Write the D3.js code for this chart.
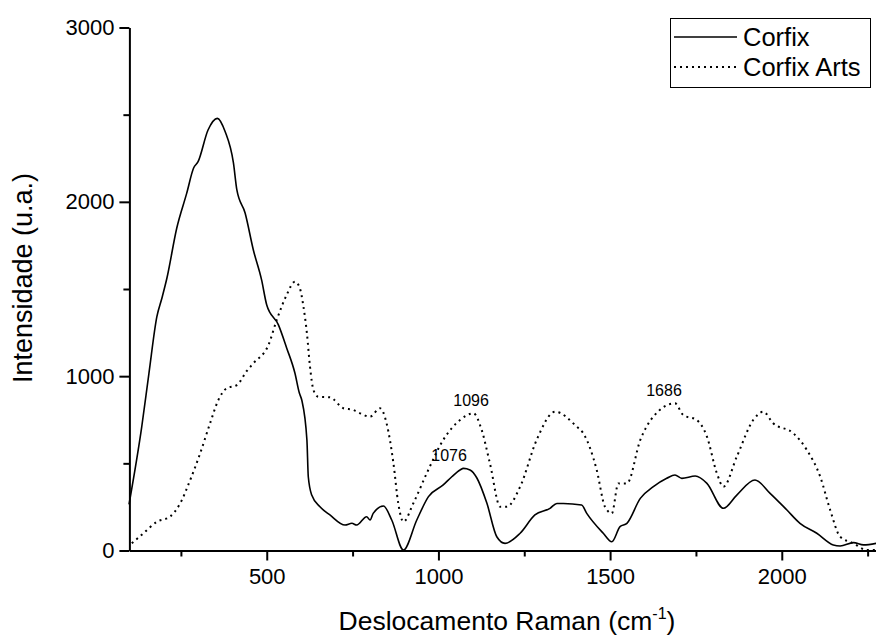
<!DOCTYPE html>
<html lang="pt">
<head>
<meta charset="UTF-8">
<title>Raman</title>
<style>
  body { margin: 0; background: #fff; }
  svg text { font-family: Arial, "Liberation Sans", sans-serif; fill: #000; }
  .axis path, .axis line { stroke: #000; stroke-width: 2px; }
  .axis text { font-size: 22px; }
</style>
</head>
<body>
<div id="chart"></div>
<script src="https://d3js.org/d3.v7.min.js"></script>
<script>
// Corfix (solid): [raman shift, intensity]
var corfix = [[99,265],[136,710],[157,1018],[180,1341],[195,1450],[209,1560],[238,1850],[267,2050],[287,2194],
  [300,2230],[329,2412],[356,2479],[379,2402],[403,2223],[413,2068],[437,1936],[461,1724],[485,1552],
  [500,1408],[534,1294],[558,1162],[582,1018],[595,903],[602,863],[617,634],[621,423],[631,318],
  [655,251],[684,204],[728,146],[748,156],[762,146],[791,194],[801,175],[810,213],[840,255],[864,175],
  [898,3],[937,175],[971,309],[1014,376],[1039,423],[1063,462],[1073,471],[1092,462],[1112,416],
  [1141,272],[1170,79],[1194,41],[1238,99],[1281,204],[1325,242],[1345,270],[1364,270],[1417,261],
  [1432,213],[1480,99],[1505,50],[1529,137],[1549,156],[1588,299],[1626,366],[1665,414],[1689,433],
  [1709,414],[1748,427],[1782,385],[1830,242],[1869,318],[1922,404],[1966,328],[2015,232],[2053,156],
  [2102,99],[2150,32],[2170,26],[2209,45],[2238,32],[2275,41]];

// Corfix Arts (dotted)
var corfixArts = [[107,41],[141,99],[180,165],[218,194],[248,271],[277,404],[306,557],[335,730],
  [359,863],[383,930],[413,949],[442,1030],[461,1074],[505,1179],[529,1322],[558,1466],[582,1542],
  [595,1513],[607,1398],[617,1246],[626,1054],[636,921],[650,882],[684,879],[723,816],[752,806],
  [772,787],[801,768],[830,816],[849,730],[869,500],[883,271],[898,165],[927,271],[966,443],
  [1014,634],[1063,749],[1102,787],[1126,691],[1150,500],[1180,251],[1199,251],[1238,366],
  [1286,634],[1340,796],[1403,710],[1422,672],[1461,462],[1485,251],[1505,213],[1524,385],
  [1549,385],[1588,634],[1626,768],[1689,844],[1713,777],[1752,749],[1782,653],[1811,443],
  [1830,366],[1869,538],[1917,749],[1946,796],[1975,730],[2034,672],[2073,577],[2112,423],
  [2141,232],[2170,79],[2209,41],[2247,3],[2275,3]];

var seriesNames = ["Corfix", "Corfix Arts"];
var xMajor = [500, 1000, 1500, 2000];
var xMinor = [250, 750, 1250, 1750, 2250];
var yMajor = [0, 1000, 2000, 3000];
var yMinor = [500, 1500, 2500];

// peak labels: [text, x centre, baseline value]
var peaks = [["1096", 1095, 829], ["1076", 1031, 515], ["1686", 1657, 886]];

var W = 876, H = 635;
var svg = d3.select("#chart").append("svg").attr("width", W).attr("height", H);

var x = d3.scaleLinear().domain([100, 2275]).range([129.4, 876.2]);
var y = d3.scaleLinear().domain([0, 3000]).range([550.5, 27.5]);

// minor ticks first, no labels
svg.append("g").attr("class", "axis")
  .attr("transform", "translate(0," + y(0) + ")")
  .call(d3.axisBottom(x).tickValues(xMinor).tickSize(6).tickFormat(""))
  .select(".domain").remove();
svg.append("g").attr("class", "axis")
  .attr("transform", "translate(" + x(100) + ",0)")
  .call(d3.axisLeft(y).tickValues(yMinor).tickSize(6).tickFormat(""))
  .select(".domain").remove();

svg.append("g").attr("class", "axis")
  .attr("transform", "translate(0," + y(0) + ")")
  .call(d3.axisBottom(x).tickValues(xMajor).tickSize(10).tickSizeOuter(0).tickPadding(8).tickFormat(d3.format("d")));
svg.append("g").attr("class", "axis")
  .attr("transform", "translate(" + x(100) + ",0)")
  .call(d3.axisLeft(y).tickValues(yMajor).tickSize(10).tickSizeOuter(0).tickPadding(5).tickFormat(d3.format("d")));

var line = d3.line()
  .x(function(d) { return x(d[0]); })
  .y(function(d) { return y(d[1]); })
  .curve(d3.curveMonotoneX);

svg.append("path").datum(corfixArts)
  .attr("d", line).attr("fill", "none").attr("stroke", "#000")
  .attr("stroke-width", 2).attr("stroke-dasharray", "2,4");
svg.append("path").datum(corfix)
  .attr("d", line).attr("fill", "none").attr("stroke", "#000")
  .attr("stroke-width", 1.6);

svg.selectAll(".peak").data(peaks).enter().append("text")
  .attr("class", "peak")
  .attr("x", function(d) { return x(d[1]); })
  .attr("y", function(d) { return y(d[2]); })
  .attr("text-anchor", "middle")
  .style("font-size", "16px")
  .text(function(d) { return d[0]; });

// axis titles
var xt = svg.append("text")
  .attr("x", 507).attr("y", 630)
  .attr("text-anchor", "middle")
  .style("font-size", "26.5px");
xt.append("tspan").text("Deslocamento Raman (cm");
xt.append("tspan").attr("dy", -11).style("font-size", "16px").text("-1");
xt.append("tspan").attr("dy", 11).text(")");

svg.append("text")
  .attr("transform", "translate(32,278) rotate(-90)")
  .attr("text-anchor", "middle")
  .style("font-size", "27px")
  .text("Intensidade (u.a.)");

// legend
var lg = svg.append("g");
lg.append("rect").attr("x", 670.5).attr("y", 18.5).attr("width", 200).attr("height", 69)
  .attr("fill", "#fff").attr("stroke", "#000").attr("stroke-width", 1);
seriesNames.forEach(function(name, i) {
  var ly = 37 + i * 30;
  lg.append("line").attr("x1", 674).attr("x2", 737).attr("y1", ly).attr("y2", ly)
    .attr("stroke", "#000").attr("stroke-width", i === 0 ? 1.6 : 2)
    .attr("stroke-dasharray", i === 0 ? null : "2,4");
  lg.append("text").attr("x", 743).attr("y", ly + 9)
    .style("font-size", "25.5px").text(name);
});
</script>
</body>
</html>
